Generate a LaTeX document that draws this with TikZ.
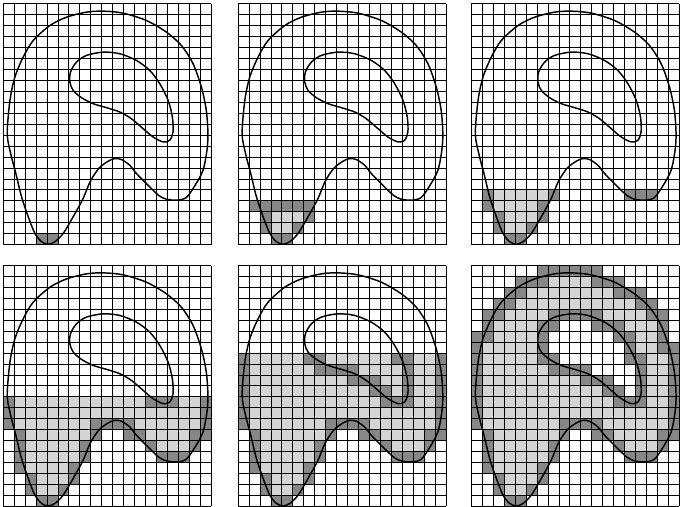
\documentclass[tikz,border=0pt]{standalone}
\colorlet{cellgray}{black!17}
\colorlet{edgegray}{black!47}
\begin{document}
\begin{tikzpicture}[x=0.5cm, y=0.5cm,
    edgecell/.style={fill=edgegray},
    incell/.style={fill=cellgray},
    gridline/.style={draw=black, line width=1.3pt},
    contour/.style={draw=black, line width=1.9pt, line join=round}]
  \useasboundingbox (0,0) rectangle (62.1,46.3);
  \foreach \px/\py/\lev/\cut/\hole in {0.3/23.95/1/-1/white, 21.75/23.95/3/3/white,
      43.05/23.95/5/-1/white, 0.3/0.05/10/-1/white, 21.75/0.05/14/-1/cellgray,
      43.05/0.05/22/-1/white} {
    \begin{scope}[shift={(\px,\py)}]
      % row/first/last/kind: 1 edge, 2 inside, 3 hole, 4 front row
      \foreach \r/\a/\b/\t in {0/3/4/1,
          1/2/2/1, 1/3/4/2, 1/5/5/1,
          2/2/2/1, 2/3/5/2, 2/6/6/1,
          3/1/1/1, 3/2/5/2, 3/6/6/1, 3/1/6/4,
          4/1/1/1, 4/2/6/2, 4/7/7/1, 4/14/16/1,
          5/1/1/1, 5/2/6/2, 5/7/7/1, 5/13/13/1, 5/14/16/2, 5/17/17/1,
          6/1/1/1, 6/2/7/2, 6/8/8/1, 6/11/12/1, 6/13/16/2, 6/17/18/1,
          7/0/0/1, 7/1/7/2, 7/8/11/1, 7/12/17/2, 7/18/18/1,
          8/0/0/1, 8/1/17/2, 8/18/18/1,
          9/0/0/1, 9/1/12/2, 9/13/15/1, 9/16/17/2, 9/18/18/1,
          10/0/0/1, 10/1/11/2, 10/12/13/1, 10/14/14/3, 10/15/15/1, 10/16/17/2, 10/18/18/1,
          11/0/0/1, 11/1/9/2, 11/10/12/1, 11/13/14/3, 11/15/15/1, 11/16/17/2, 11/18/18/1,
          12/0/0/1, 12/1/6/2, 12/7/10/1, 12/11/14/3, 12/15/15/1, 12/16/17/2, 12/18/18/1,
          13/0/0/1, 13/1/5/2, 13/6/7/1, 13/8/13/3, 13/14/15/1, 13/16/17/2, 13/18/18/1,
          14/0/0/1, 14/1/5/2, 14/6/6/1, 14/7/13/3, 14/14/14/1, 14/15/16/2, 14/17/18/1,
          15/0/1/1, 15/2/5/2, 15/6/6/1, 15/7/12/3, 15/13/14/1, 15/15/16/2, 15/17/17/1,
          16/1/1/1, 16/2/5/2, 16/6/7/1, 16/8/10/3, 16/11/13/1, 16/14/16/2, 16/17/17/1,
          17/1/2/1, 17/3/6/2, 17/7/11/1, 17/12/15/2, 17/16/17/1,
          18/2/3/1, 18/4/14/2, 18/15/16/1,
          19/3/4/1, 19/5/12/2, 19/13/15/1,
          20/4/6/1, 20/7/10/2, 20/11/13/1,
          21/6/11/1} {
        \ifnum\t=4\relax
          \ifnum\r=\cut\relax \fill[edgecell] (\a,\r) rectangle (\b+1,\r+1); \fi
        \else
          \ifnum\r<\lev\relax
            \ifcase\t\or
              \fill[edgecell] (\a,\r) rectangle (\b+1,\r+1);
            \or
              \fill[incell] (\a,\r) rectangle (\b+1,\r+1);
            \or
              \fill[fill=\hole] (\a,\r) rectangle (\b+1,\r+1);
            \fi
          \fi
        \fi
      }
      \foreach \i in {0,...,19}
        \draw[gridline] (\i,0) -- (\i,22);
      \foreach \j in {0,...,22}
        \draw[gridline] (0,\j) -- (19,\j);
      % outer outline
      \draw[contour] plot[smooth cycle] coordinates {(9.12,21.33) (7.6,21.24)
        (5.78,20.78) (4.26,20.02) (2.74,18.66) (1.82,17.14) (1.06,15.31)
        (0.61,13.19) (0.36,10.15) (0.68,8.3) (1.15,6.5) (1.67,4.37) (2.28,2.55)
        (2.89,1.03) (3.5,0.27) (4.1,0.05) (4.71,0.27) (5.47,1.03) (6.38,2.55)
        (7.29,4.22) (7.95,5.8) (8.75,7.0) (9.57,7.62) (10.18,7.87) (10.79,7.78)
        (11.55,7.26) (12.16,6.5) (13.3,5.35) (14.2,4.5) (14.89,4.16) (15.8,4.07)
        (16.7,4.3) (17.5,5.4) (18.24,6.8) (18.6,8.63) (18.69,10.15) (18.54,12.27)
        (18.09,14.4) (17.33,16.53) (16.26,18.2) (14.89,19.42) (13.07,20.48)
        (10.94,21.15)};
      % hole
      \draw[contour] plot[smooth cycle] coordinates {(9.12,17.59) (7.6,17.29)
        (6.69,16.68) (6.14,15.77) (6.08,14.86) (6.38,14.1) (7.14,13.43)
        (8.21,12.88) (9.42,12.52) (10.64,12.12) (11.7,11.51) (12.77,10.6)
        (13.68,9.84) (14.59,9.39) (15.2,9.54) (15.5,10.3) (15.44,11.67)
        (15.05,13.19) (14.29,14.71) (13.37,15.92) (12.16,16.83) (10.64,17.44)};
    \end{scope}
  }
\end{tikzpicture}
\end{document}
